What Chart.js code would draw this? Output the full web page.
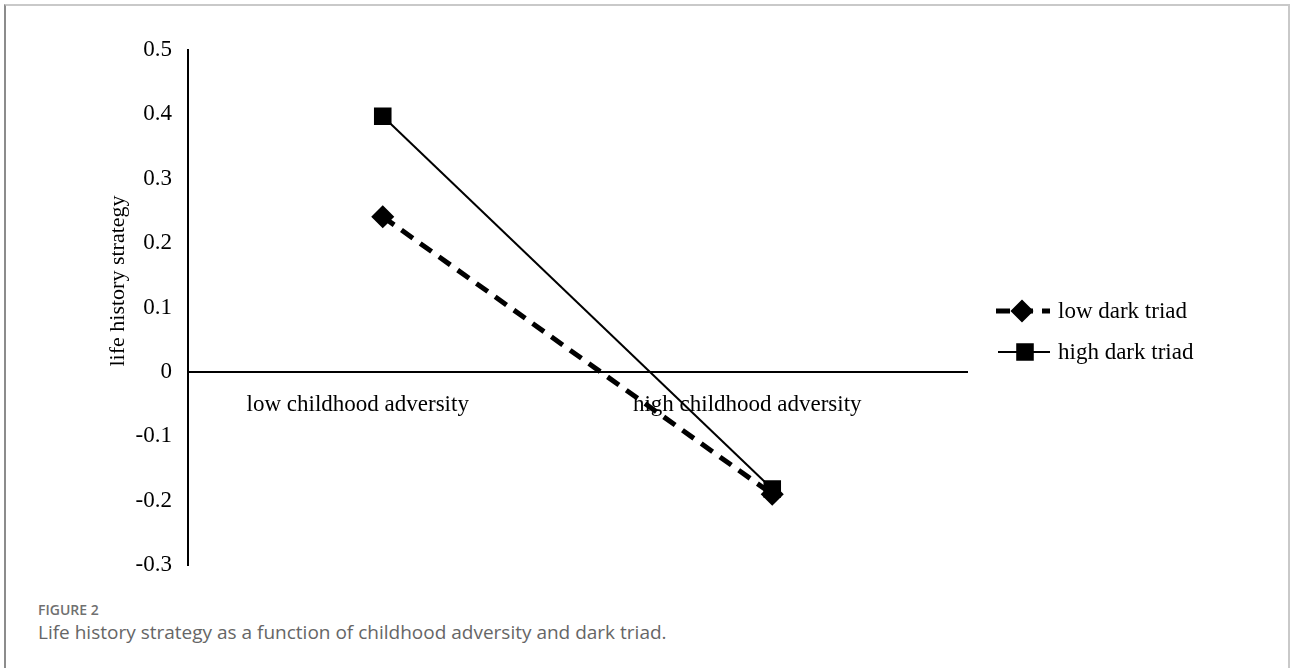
<!DOCTYPE html>
<html>
<head>
<meta charset="utf-8">
<script src="https://cdn.jsdelivr.net/npm/chart.js@4.4.0/dist/chart.umd.min.js"></script>
<style>
    body { margin: 0; background: #fff; }
    #frame {
        position: absolute; left: 4px; top: 4px; width: 1282px; height: 700px;
        border-top: 2px solid #c9c9c9; border-right: 2px solid #c9c9c9; border-left: 2px solid #8c8c8c;
    }
    #chart { position: absolute; left: 0; top: 0; }
    #fig-label {
        position: absolute; left: 38px; top: 600px;
        font-family: "Open Sans", "Noto Sans", sans-serif; font-size: 14px; font-weight: 600; color: #707070;
    }
    #fig-caption {
        position: absolute; left: 38px; top: 619px;
        font-family: "Open Sans", "Noto Sans", sans-serif; font-size: 19px; color: #666;
    }
</style>
</head>
<body>
<div id="frame"></div>
<canvas id="chart" width="1290" height="600"></canvas>
<div id="fig-label">FIGURE 2</div>
<div id="fig-caption">Life history strategy as a function of childhood adversity and dark triad.</div>
<script>
var categories = ['low childhood adversity', 'high childhood adversity'];
var lowDarkTriad = [0.241, -0.19];
var highDarkTriad = [0.397, -0.182];
var yTicks = [-0.3, -0.2, -0.1, 0, 0.1, 0.2, 0.3, 0.4, 0.5];
var yTitle = 'life history strategy';

var serif = '"Liberation Serif", "Times New Roman", serif';

// y axis title, drawn where the original puts it (a bit above the plot centre)
var yTitlePlugin = {
    id: 'yTitle',
    afterDraw: function (chart) {
        var ctx = chart.ctx;
        ctx.save();
        ctx.translate(118, 281);
        ctx.rotate(-Math.PI / 2);
        ctx.font = '22px ' + serif;
        ctx.fillStyle = '#000';
        ctx.textAlign = 'center';
        ctx.textBaseline = 'middle';
        ctx.fillText(yTitle, 0, 0);
        ctx.restore();
    }
};

// legend with line + marker, like the spreadsheet legend
var lineLegendPlugin = {
    id: 'lineLegend',
    afterDraw: function (chart) {
        var ctx = chart.ctx;
        var rows = [311, 352];
        chart.data.datasets.forEach(function (ds, i) {
            var y = rows[i];
            ctx.save();
            ctx.strokeStyle = ds.borderColor;
            ctx.lineWidth = ds.borderWidth;
            ctx.setLineDash(ds.borderDash || []);
            ctx.beginPath();
            ctx.moveTo(i === 0 ? 996 : 998, y);
            ctx.lineTo(1050, y);
            ctx.stroke();
            ctx.setLineDash([]);
            ctx.fillStyle = ds.pointBackgroundColor;
            Chart.helpers.drawPoint(ctx, {
                pointStyle: ds.pointStyle, radius: ds.pointRadius, rotation: 0, borderWidth: 1
            }, i === 0 ? 1022 : 1025, y);
            ctx.fill();
            ctx.font = '23px ' + serif;
            ctx.textBaseline = 'middle';
            ctx.fillStyle = '#000';
            ctx.fillText(ds.label, 1058, y + 1);
            ctx.restore();
        });
    }
};

new Chart(document.getElementById('chart'), {
    type: 'line',
    data: {
        labels: categories,
        datasets: [{
            label: 'low dark triad',
            data: lowDarkTriad,
            borderColor: '#000',
            borderWidth: 5,
            borderDash: [14, 9],
            pointStyle: 'rectRot',
            pointRadius: 8,
            pointBackgroundColor: '#000',
            pointBorderColor: '#000',
            fill: false
        }, {
            label: 'high dark triad',
            data: highDarkTriad,
            borderColor: '#000',
            borderWidth: 2,
            pointStyle: 'rect',
            pointRadius: 11,
            pointBackgroundColor: '#000',
            pointBorderColor: '#000',
            fill: false
        }]
    },
    options: {
        responsive: false,
        animation: false,
        layout: { padding: { left: 0, top: 50, right: 323, bottom: 35 } },
        plugins: {
            legend: { display: false },
            tooltip: { enabled: false }
        },
        scales: {
            x: {
                type: 'category',
                offset: true,
                position: { y: 0 },
                grid: { display: false, drawTicks: false },
                border: { display: true, color: '#000', width: 2 },
                ticks: {
                    padding: 19,
                    labelOffset: -25,
                    color: '#000',
                    font: { family: serif, size: 23 }
                }
            },
            y: {
                min: -0.3,
                max: 0.5,
                afterFit: function (scale) { scale.width = 188; },
                afterBuildTicks: function (scale) {
                    scale.ticks = yTicks.map(function (v) { return { value: v }; });
                },
                grid: { display: false, drawTicks: false },
                border: { display: true, color: '#000', width: 2 },
                ticks: {
                    padding: 16,
                    color: '#000',
                    font: { family: serif, size: 23 },
                    callback: function (v) { return v === 0 ? '0' : v.toFixed(1); }
                }
            }
        }
    },
    plugins: [yTitlePlugin, lineLegendPlugin]
});
</script>
</body>
</html>
